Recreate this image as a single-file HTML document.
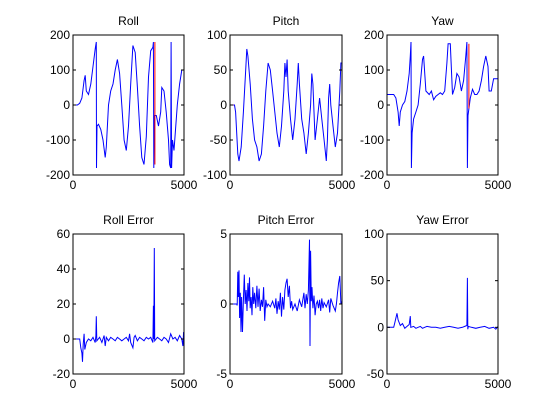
<!DOCTYPE html>
<html><head><meta charset="utf-8"><style>
html,body{margin:0;padding:0;background:#fff;}
svg{display:block;font-family:"Liberation Sans",Arial,sans-serif;}
</style></head><body>
<svg id="fig" width="560" height="420" viewBox="0 0 560 420" xmlns="http://www.w3.org/2000/svg"></svg>
<script>
const rollBlue=[[0,0],[200,0],[300,5],[400,20],[500,70],[550,85],[600,40],[700,30],[800,60],[900,110],[1000,160],[1050,180],[1060,-180],[1080,-60],[1150,-55],[1250,-70],[1350,-100],[1450,-150],[1500,-120],[1600,0],[1700,40],[1800,60],[1900,100],[2000,130],[2100,90],[2200,0],[2300,-100],[2400,-130],[2500,-60],[2600,60],[2700,170],[2800,150],[2900,50],[3000,-60],[3100,-150],[3200,-170],[3300,-90],[3400,80],[3500,155],[3600,165],[3620,180],[3640,-180],[3660,-30],[3750,-30],[3850,-60],[3950,-20],[4000,50],[4100,40],[4200,-20],[4300,-100],[4350,-170],[4400,-180],[4420,180],[4440,-180],[4480,-100],[4550,-130],[4700,0],[4800,60],[4900,100],[5000,100]];
const rollRed=[[3690,180],[3690,-170]];
const pitchBlue=[[0,0],[200,0],[250,-10],[300,-40],[350,-70],[400,-80],[500,-60],[600,-10],[700,50],[750,80],[800,70],[900,30],[1000,-20],[1100,-50],[1200,-60],[1300,-80],[1400,-70],[1500,-30],[1600,20],[1700,60],[1800,50],[1900,20],[2000,-10],[2100,-40],[2200,-60],[2300,-30],[2400,20],[2450,60],[2500,40],[2550,65],[2600,20],[2700,-20],[2800,-50],[2900,-20],[3000,30],[3050,60],[3100,30],[3200,-20],[3300,-40],[3400,-70],[3500,-40],[3600,0],[3650,45],[3700,30],[3750,-10],[3800,-50],[3900,-20],[4000,10],[4100,-20],[4200,-50],[4300,-80],[4350,-50],[4400,10],[4450,30],[4500,0],[4600,-30],[4700,-60],[4800,-40],[4900,20],[4950,60],[5000,60]];
const pitchRed=[[0,0],[150,0]];
const yawBlue=[[0,30],[300,30],[400,20],[500,-20],[550,-60],[600,-20],[700,0],[800,10],[900,40],[1000,90],[1050,140],[1080,180],[1100,-180],[1130,-80],[1200,-40],[1300,-20],[1400,0],[1500,60],[1600,130],[1650,140],[1750,40],[1900,30],[2000,40],[2100,15],[2200,25],[2300,30],[2400,35],[2500,30],[2600,40],[2700,120],[2750,175],[2850,175],[2950,30],[3050,50],[3150,90],[3250,80],[3350,40],[3450,70],[3550,140],[3600,180],[3620,-180],[3650,-30],[3750,20],[3850,45],[3950,30],[4050,30],[4150,40],[4250,70],[4350,110],[4450,140],[4550,110],[4600,40],[4700,40],[4800,75],[5000,75]];
const yawRed=[[3690,175],[3690,-10]];
const rollErr=[[0,0],[300,0],[350,-5],[400,-8],[430,-13],[460,-3],[500,3],[530,-6],[600,-2],[700,0],[800,-1],[900,1],[1000,-2],[1030,2],[1050,13],[1070,-1],[1200,1],[1300,-2],[1400,2],[1450,-4],[1500,1],[1600,-1],[1700,1],[1800,0],[1900,-1],[2000,1],[2100,0],[2200,-1],[2300,0],[2400,1],[2500,-1],[2550,3],[2600,-2],[2700,-5],[2750,1],[2800,2],[2900,-1],[3000,1],[3100,0],[3200,-1],[3300,1],[3400,0],[3500,1],[3600,-2],[3620,19],[3640,0],[3660,52],[3680,-1],[3800,1],[3900,0],[4000,-1],[4100,1],[4200,0],[4300,-2],[4400,3],[4500,0],[4600,1],[4700,-1],[4800,2],[4900,0],[4950,-4],[4980,4],[5000,-2]];
const pitchErr=[[0,0],[300,0],[320,-0.1],[350,2.3],[370,0.5],[400,2.4],[430,-1],[460,0.8],[490,-2],[520,0.5],[560,-2],[600,0.3],[640,2.1],[680,0],[720,1],[760,-0.5],[800,1.5],[840,0.2],[870,1.9],[900,-0.3],[940,0.5],[980,-0.8],[1020,1.2],[1060,0],[1100,0.8],[1150,-0.3],[1200,1.3],[1250,-0.2],[1300,1.1],[1350,-0.5],[1400,0.3],[1450,-0.2],[1500,1.2],[1550,-1.2],[1600,0.3],[1650,-0.2],[1700,0],[1800,-0.2],[1900,0.2],[2000,-0.3],[2050,0.4],[2100,-0.7],[2150,0.2],[2200,-0.4],[2250,0.8],[2300,-0.9],[2350,0.5],[2400,-0.4],[2450,1],[2500,1.5],[2550,1.8],[2600,0.5],[2650,1.3],[2700,-0.3],[2750,0.2],[2800,-0.4],[2900,0],[3000,-0.5],[3100,0.3],[3200,-0.2],[3300,0.8],[3350,-0.3],[3400,0.7],[3450,0],[3500,1],[3550,4.6],[3570,-3],[3600,3.8],[3630,0.2],[3660,1.2],[3700,-0.3],[3750,0.6],[3800,-0.8],[3850,0],[3900,0.2],[3950,-0.3],[4000,0.3],[4050,-0.5],[4100,0.4],[4150,-0.3],[4200,0.1],[4300,-0.2],[4400,0.3],[4450,-0.6],[4500,0.4],[4600,-0.1],[4700,-0.5],[4750,0],[4800,0.8],[4850,1.5],[4900,2],[4950,0],[5000,0.2]];
const yawErr=[[0,0],[300,0],[350,5],[400,10],[450,15],[500,8],[550,5],[600,2],[700,4],[800,-1],[900,1],[1000,3],[1050,12],[1070,0],[1200,1],[1300,-1],[1400,0],[1500,1],[1600,-1],[1700,0],[1800,1],[2000,0],[2200,0],[2400,-1],[2600,0],[2800,1],[3000,0],[3200,-1],[3400,0],[3500,1],[3600,2],[3620,53],[3640,-2],[3660,1],[3800,0],[4000,-1],[4200,0],[4400,1],[4600,-1],[4800,0],[4900,-2],[5000,1]];
const titles=["Roll","Pitch","Yaw","Roll Error","Pitch Error","Yaw Error"];
const yTicks=[[-200,-100,0,100,200],[-100,-50,0,50,100],[-200,-100,0,100,200],[-20,0,20,40,60],[-5,0,5],[-50,0,50,100]];
const xTicks=[0,5000];
const panelNames=["roll","pitch","yaw","roll-error","pitch-error","yaw-error"];
const panelSeries=[[[rollBlue,"#0000ff"],[rollRed,"#ff0000"]],[[pitchBlue,"#0000ff"],[pitchRed,"#ff0000"]],[[yawBlue,"#0000ff"],[yawRed,"#ff0000"]],[[rollErr,"#0000ff"]],[[pitchErr,"#0000ff"]],[[yawErr,"#0000ff"]]];

const NS="http://www.w3.org/2000/svg";
const svg=document.getElementById("fig");
function mk(tag,attrs,parent){const e=document.createElementNS(NS,tag);for(const k in attrs)e.setAttribute(k,attrs[k]);parent.appendChild(e);return e;}
const lefts=[73,230,387],rights=[184,342,498],tops=[35,234],bots=[175,374];
for(let i=0;i<6;i++){
  const c=i%3,r=Math.floor(i/3);
  const L=lefts[c],R=rights[c],T=tops[r],B=bots[r];
  const yt=yTicks[i];const ymin=yt[0],ymax=yt[yt.length-1];
  const xs=v=>L+(v-xTicks[0])/(xTicks[1]-xTicks[0])*(R-L);
  const ys=v=>B-(v-ymin)/(ymax-ymin)*(B-T);
  const g=mk("g",{},svg);
  
  
  const bg=mk("rect",{x:L,y:T,width:R-L,height:B-T,fill:"#fff"},g);
  
  
  panelSeries[i].forEach(([data,col],si)=>{
    const p=mk("polyline",{points:data.map(d=>xs(d[0]).toFixed(1)+","+ys(d[1]).toFixed(1)).join(" "),fill:"none",stroke:col,"stroke-width":1},g);
    
    
  });
  const box=mk("rect",{x:L,y:T,width:R-L,height:B-T,fill:"none",stroke:"#000","stroke-width":1},g);
  
  
  yt.forEach(v=>{
    const y=ys(v);
    mk("line",{x1:L,x2:L+3,y1:y,y2:y,stroke:"#000"},g);
    mk("line",{x1:R,x2:R-3,y1:y,y2:y,stroke:"#000"},g);
    const t=mk("text",{x:L-3,y:y+4,"text-anchor":"end","font-size":12},g);
    t.textContent=v;
    
    
  });
  xTicks.forEach((v,k)=>{
    const x=xs(v);
    mk("line",{x1:x,x2:x,y1:B,y2:B-3,stroke:"#000"},g);
    mk("line",{x1:x,x2:x,y1:T,y2:T+3,stroke:"#000"},g);
    const t=mk("text",{x:x,y:B+14,"text-anchor":"middle","font-size":12},g);
    t.textContent=v;
    
    
  });
  const tt=mk("text",{x:(L+R)/2,y:T-10,"text-anchor":"middle","font-size":12},g);
  tt.textContent=titles[i];
  
  
}
</script>
</body></html>
